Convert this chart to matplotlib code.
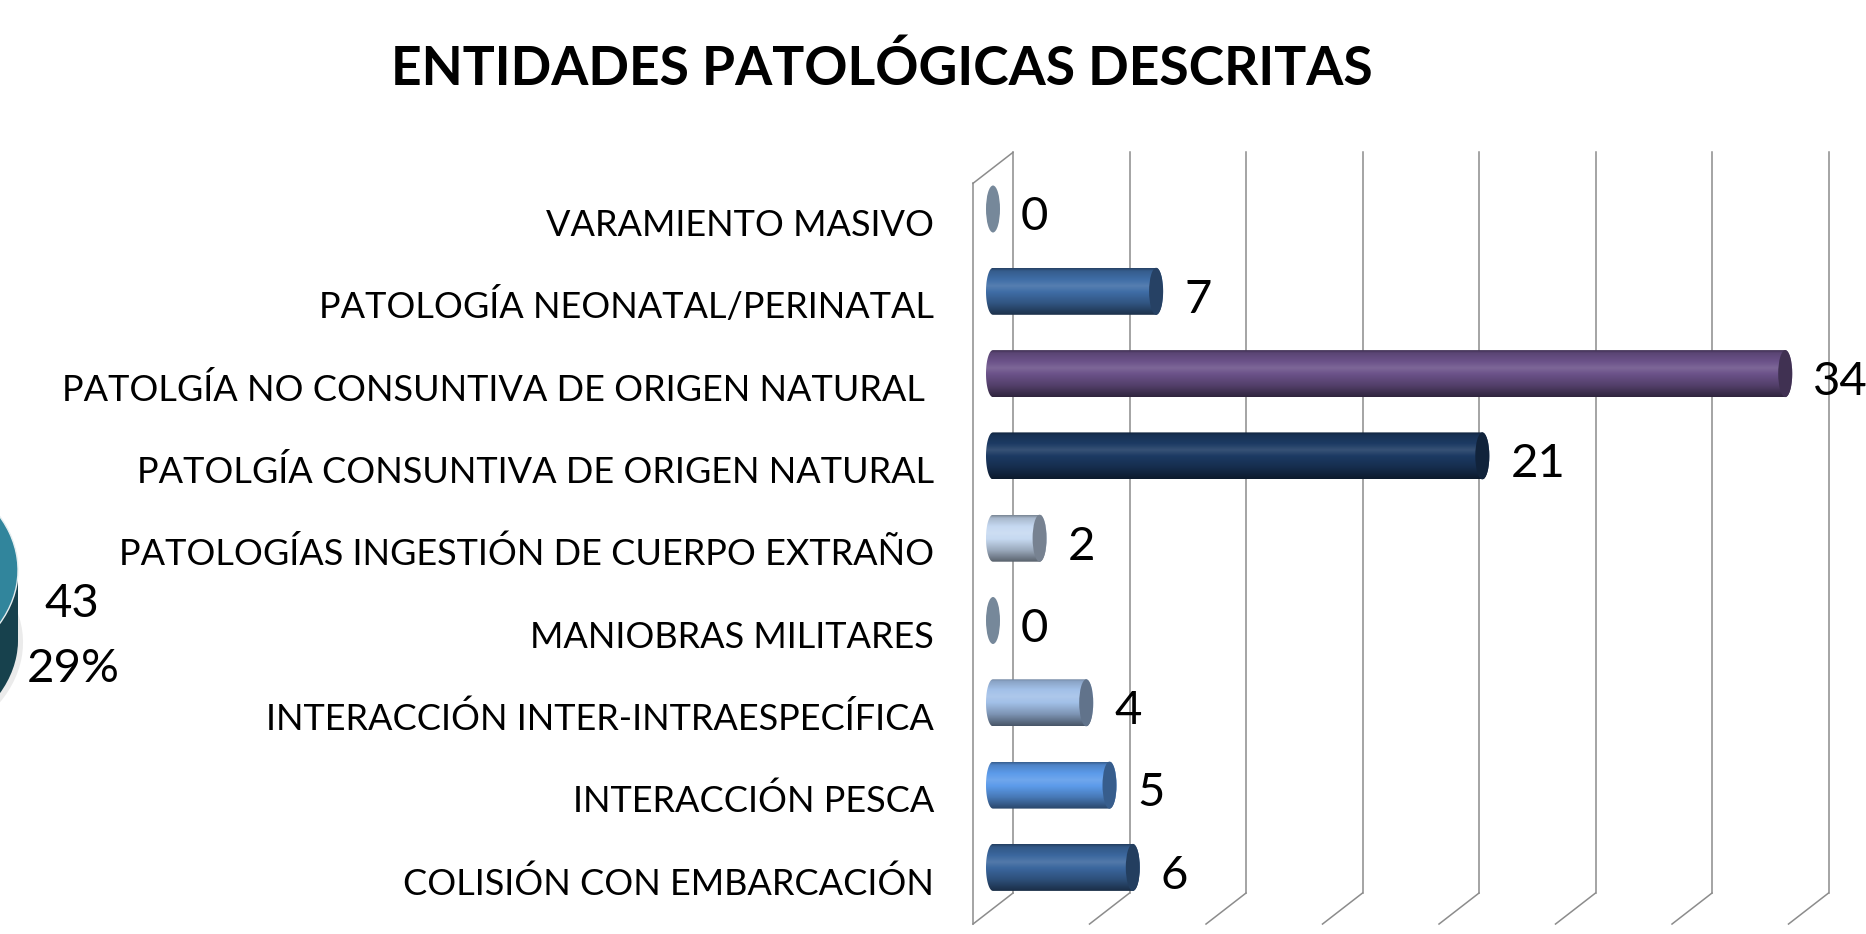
import numpy as np
import matplotlib
matplotlib.use('Agg')
import matplotlib.pyplot as plt
from matplotlib.patches import Ellipse, Polygon
from matplotlib.colors import to_rgb

plt.rcParams['font.family'] = ['Lato', 'DejaVu Sans']

# data
categories = ['VARAMIENTO MASIVO',
              'PATOLOGÍA NEONATAL/PERINATAL',
              'PATOLGÍA NO CONSUNTIVA DE ORIGEN NATURAL ',
              'PATOLGÍA CONSUNTIVA DE ORIGEN NATURAL',
              'PATOLOGÍAS INGESTIÓN DE CUERPO EXTRAÑO',
              'MANIOBRAS MILITARES',
              'INTERACCIÓN INTER-INTRAESPECÍFICA',
              'INTERACCIÓN PESCA',
              'COLISIÓN CON EMBARCACIÓN']
values = [0, 7, 34, 21, 2, 0, 4, 5, 6]
bar_colors = ['#76889A', '#3F6DA6', '#6B5289', '#1C3A63', '#C6D9F1',
              '#76889A', '#A2C0E8', '#5C9BEA', '#3B679E']
grid_ticks = [0, 5, 10, 15, 20, 25, 30, 35]
pie_values = [43, 105]
pie_colors = ['#31859C', '#4BACC6']
pie_side = ['#17414D', '#25566A']

W, H = 1866, 934
fig = plt.figure(figsize=(W / 100, H / 100), dpi=100)
fig.patch.set_facecolor('white')

# pixel layout of the 3d bar area
x0_px, unit_px = 993, 23.3      # zero of bars, pixels per unit
y0_px, row_px = 209, 82.3       # first bar centre, row spacing
dx, dy = 20 / unit_px, 15.5 / row_px   # half depth of the box
h = 47 / row_px                 # cylinder height
capw = 7 / unit_px              # half width of end ellipse

ax = fig.add_axes([0, 0, 1, 1])
ax.set_xlim(-x0_px / unit_px, (W - x0_px) / unit_px)
ax.set_ylim((H - y0_px) / row_px, -y0_px / row_px)
ax.axis('off')

gcol = '#8C8C8C'
top, bot = -0.5, len(categories) - 0.5
for k in grid_ticks:
    ax.plot([k + dx, k + dx], [top - dy, bot - dy], color=gcol, lw=1.1, zorder=1)
    ax.plot([k + dx, k - dx], [bot - dy, bot + dy], color=gcol, lw=1.1, zorder=1)
ax.plot([-dx, -dx], [top + dy, bot + dy], color=gcol, lw=1.1, zorder=1)
ax.plot([dx, -dx], [top - dy, top + dy], color=gcol, lw=1.1, zorder=1)


def shade(base, f):
    if f <= 1:
        return base * f
    return base + (1 - base) * (f - 1)


def cylinder(v, y, color):
    base = np.array(to_rgb(color))
    if v == 0:
        ax.add_patch(Ellipse((0, y), 2 * capw, h, fc=color, ec='none', zorder=4))
        return
    t = np.linspace(0, 1, 80)
    f = np.interp(t, [0, 0.06, 0.38, 0.75, 1], [0.62, 0.85, 1.12, 0.78, 0.45])
    img = np.array([shade(base, fi) for fi in f]).reshape(-1, 1, 3)
    th = np.linspace(np.pi / 2, -np.pi / 2, 40)
    rx = v + capw * np.cos(th)
    ry = y - h / 2 * np.sin(th)
    th2 = np.linspace(-np.pi / 2, -3 * np.pi / 2, 40)
    lx = capw * np.cos(th2)
    ly = y - h / 2 * np.sin(th2)
    poly = Polygon(np.column_stack([np.r_[rx, lx], np.r_[ry, ly]]),
                   closed=True, fc='none', ec='none')
    ax.add_patch(poly)
    im = ax.imshow(img, extent=(-capw, v + capw, y + h / 2, y - h / 2),
                   aspect='auto', origin='upper', interpolation='bilinear', zorder=3)
    im.set_clip_path(poly)
    ax.add_patch(Ellipse((v, y), 2 * capw, h, fc=base * 0.6, ec='none', zorder=4))


for i, (cat, v, c) in enumerate(zip(categories, values, bar_colors)):
    cylinder(v, i, c)
    ax.text(-dx - 39 / unit_px, i + 0.33, cat, ha='right', va='baseline',
            fontsize=26, color='black')
    ax.text(v + 1.2, i + 0.26, str(v), ha='left', va='baseline',
            fontsize=34, color='black')

fig.text(882 / W, 1 - 85 / H, 'ENTIDADES PATOLÓGICAS DESCRITAS', ha='center',
         va='baseline', fontsize=38.5, fontweight='bold')

# fragment of the neighbouring pie chart
pax = fig.add_axes([-318 / W, (H - 758) / H, 336 / W, 306 / H])
depth = 70 / 118
pax.pie(pie_values, colors=['#D8D8D8', '#D8D8D8'], startangle=-60,
        center=(0.02, -depth - 0.02), radius=1.01,
        wedgeprops=dict(linewidth=0, alpha=0.5))
for d in np.linspace(-depth, 0, 14)[:-1]:
    pax.pie(pie_values, colors=pie_side, startangle=-60, center=(0, d),
            wedgeprops=dict(linewidth=0))
pax.pie(pie_values, colors=pie_colors, startangle=-60, center=(0, 0),
        wedgeprops=dict(linewidth=1, edgecolor='#E6EEF0'))
pax.set_aspect('auto')
pax.set_xlim(-1, 1)
pax.set_ylim(-1 - depth, 1)
pax.axis('off')

pct = 100 * pie_values[0] / sum(pie_values)
fig.text(72 / W, 1 - 617 / H, str(pie_values[0]), ha='center', va='baseline', fontsize=34)
fig.text(73 / W, 1 - 682 / H, '%d%%' % round(pct), ha='center', va='baseline', fontsize=34)

fig.savefig('out.png', dpi=100, facecolor='white')
